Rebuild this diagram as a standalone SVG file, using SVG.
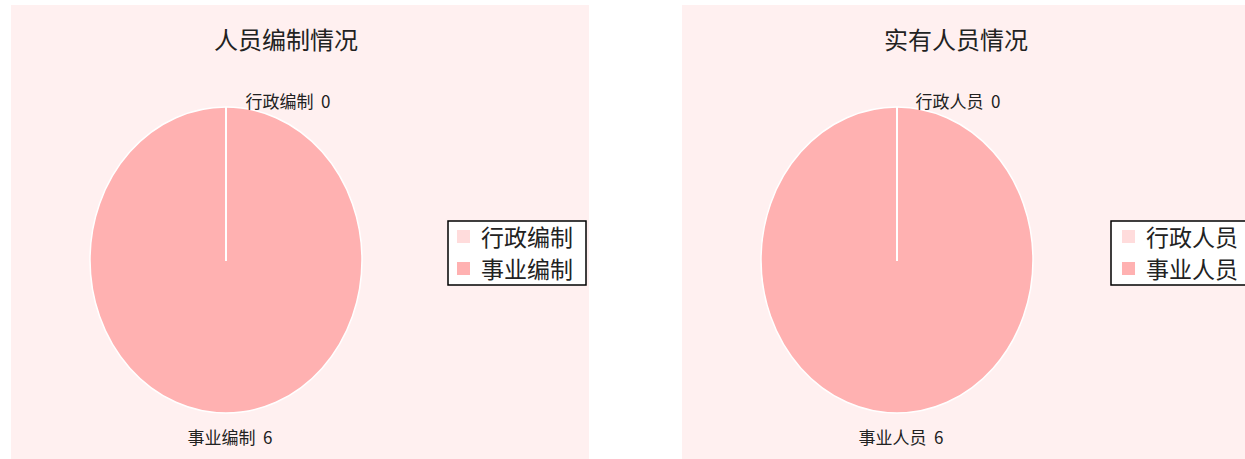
<svg xmlns="http://www.w3.org/2000/svg" width="1245" height="459" viewBox="0 0 1245 459">
<style>
.bg{fill:#fff0f0}
.pie{fill:#ffb1b1;stroke:#ffffff;stroke-width:1.5}
.sep{stroke:#ffffff;stroke-width:2}
text{font-family:"Noto Sans CJK SC","Noto Sans CJK JP",sans-serif;fill:#222}
.title{font-size:24px}
.lbl{font-size:17px}
.leg{font-size:23px}
.lbox{fill:#ffffff;stroke:#000;stroke-width:1.5}
</style>
<rect width="1245" height="459" fill="#ffffff"/>
<g id="chart1">
<rect class="bg" x="11" y="5" width="578" height="454"/>
<text class="title" x="286" y="49" text-anchor="middle">人员编制情况</text>
<ellipse class="pie" cx="226" cy="260" rx="136" ry="153"/>
<line class="sep" x1="226" y1="107" x2="226" y2="261"/>
<text class="lbl" x="288" y="108" text-anchor="middle">行政编制&#160;&#160;0</text>
<text class="lbl" x="230" y="444" text-anchor="middle">事业编制&#160;&#160;6</text>
<g id="legend1">
<rect class="lbox" x="448" y="221" width="138" height="64"/>
<rect x="457" y="230" width="13" height="13" fill="#ffdcdc"/>
<rect x="457" y="262" width="13" height="13" fill="#ffb1b1"/>
<text class="leg" x="481" y="246">行政编制</text>
<text class="leg" x="481" y="278">事业编制</text>
</g>
</g>
<g id="chart2">
<rect class="bg" x="682" y="5" width="563" height="454"/>
<text class="title" x="956" y="49" text-anchor="middle">实有人员情况</text>
<ellipse class="pie" cx="897" cy="260" rx="136" ry="153"/>
<line class="sep" x1="897" y1="107" x2="897" y2="261"/>
<text class="lbl" x="958" y="108" text-anchor="middle">行政人员&#160;&#160;0</text>
<text class="lbl" x="901" y="444" text-anchor="middle">事业人员&#160;&#160;6</text>
<g id="legend2">
<rect class="lbox" x="1111" y="221" width="138" height="64"/>
<rect x="1122" y="230" width="13" height="13" fill="#ffdcdc"/>
<rect x="1122" y="262" width="13" height="13" fill="#ffb1b1"/>
<text class="leg" x="1146" y="246">行政人员</text>
<text class="leg" x="1146" y="278">事业人员</text>
</g>
</g>
</svg>
